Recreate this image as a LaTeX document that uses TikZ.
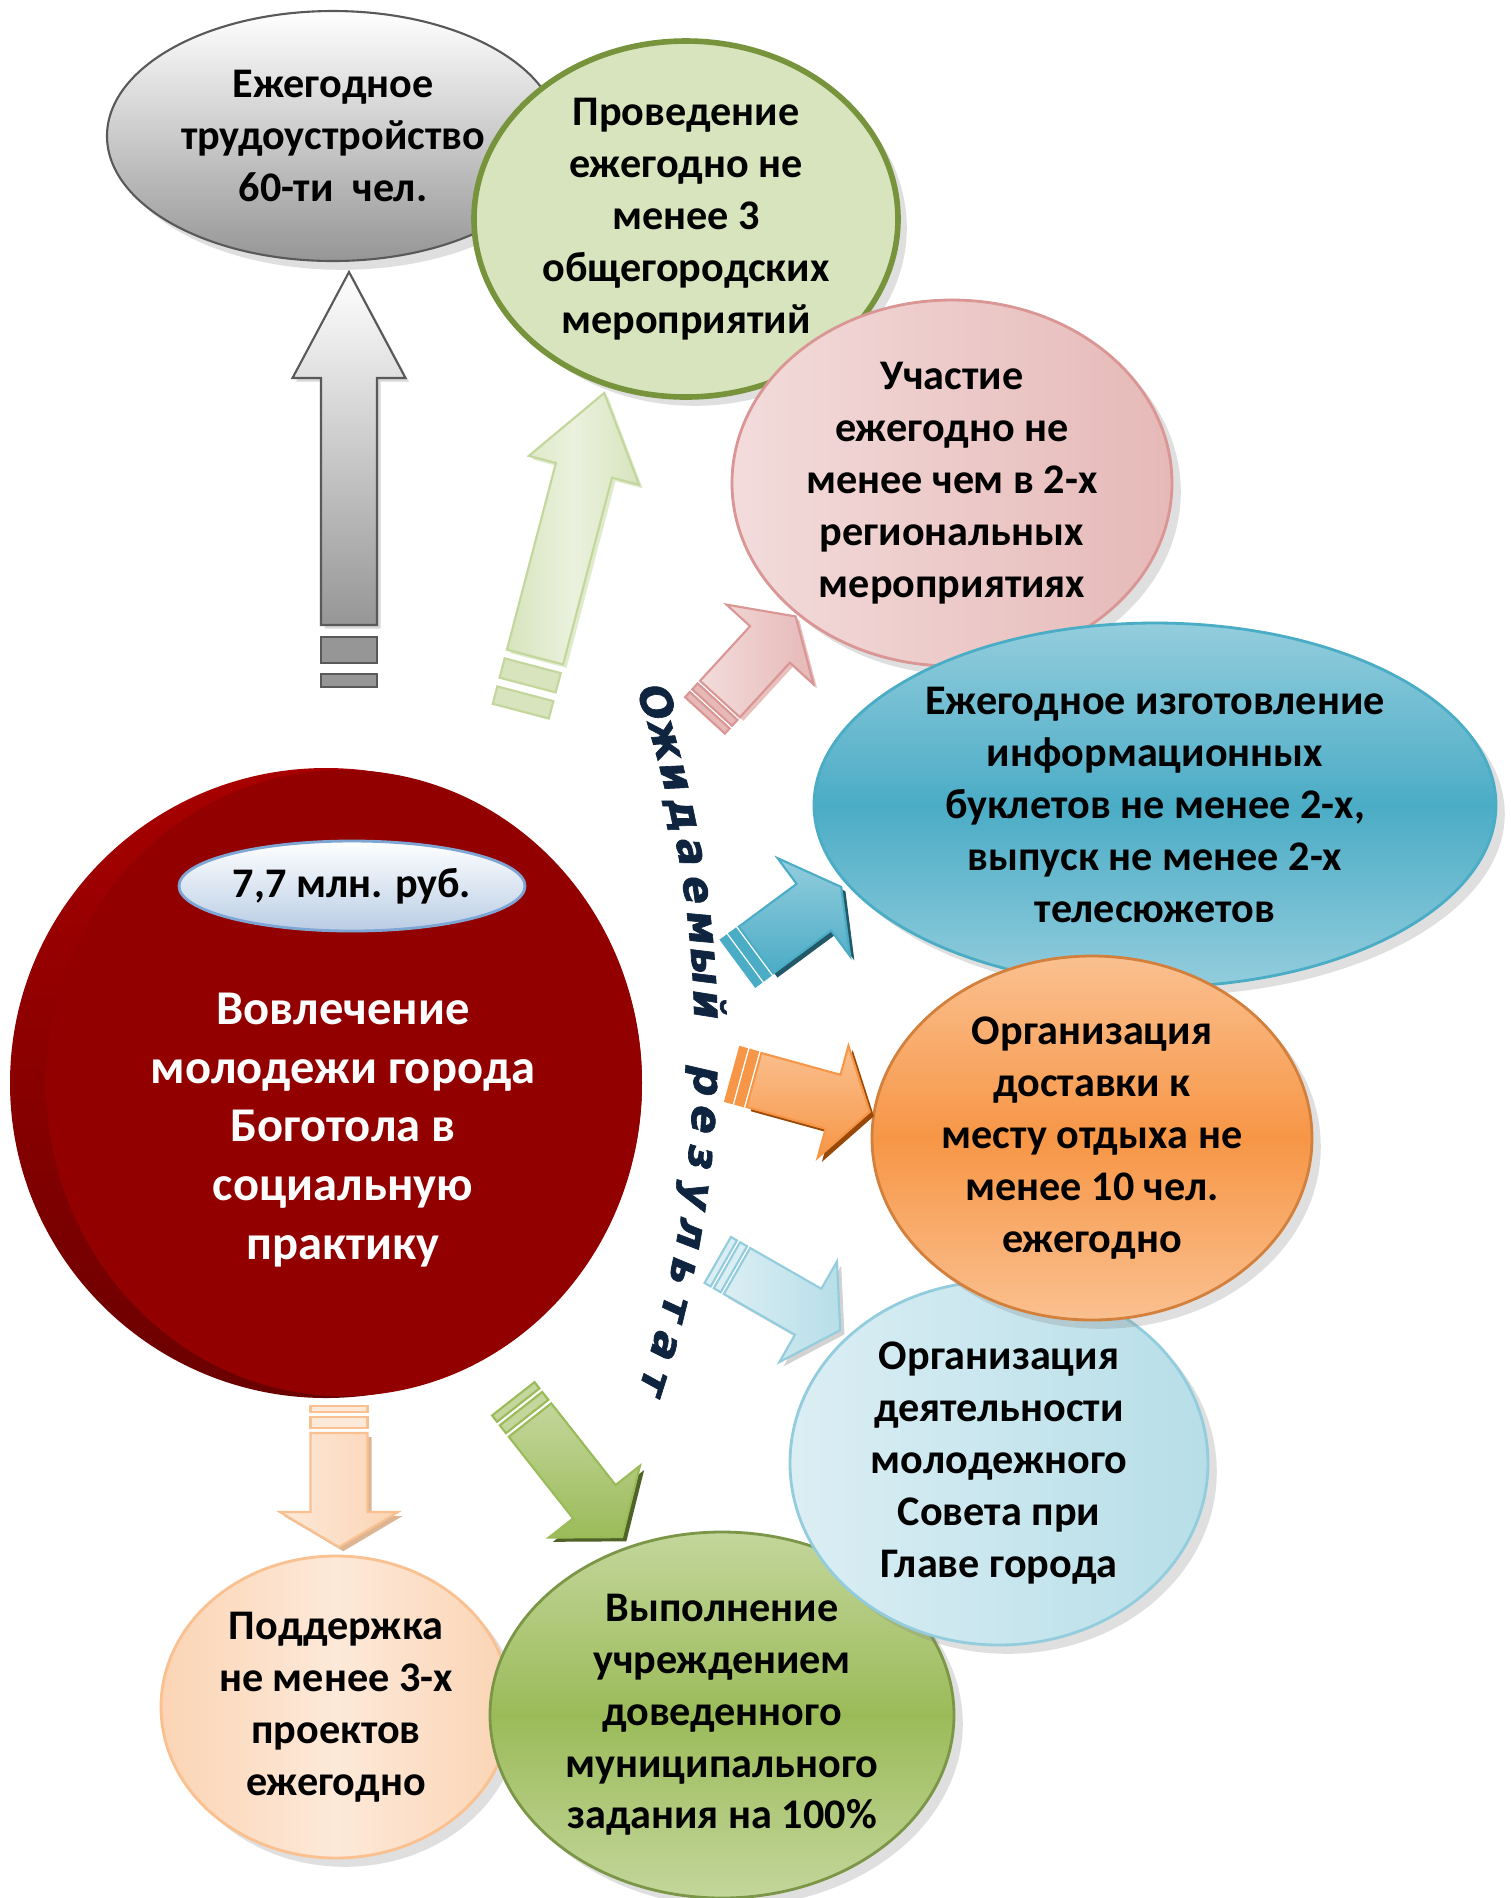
\documentclass[tikz,border=0pt]{standalone}
\usepackage{fontspec}
\setmainfont{Carlito}
\newfontfamily\wordart{DejaVu Sans}[BoldItalicFeatures={FakeBold=1.5}]
\usepackage{tikz}
\usetikzlibrary{shapes.geometric,shadows}
\usepackage{color}

\definecolor{grayedge}{HTML}{595959}
\definecolor{graydark}{HTML}{969696}
\definecolor{oliveedge}{HTML}{77933C}
\definecolor{olivefill}{HTML}{D7E4BD}
\definecolor{olivelight}{HTML}{EBF1DE}
\definecolor{pinkedge}{HTML}{D99694}
\definecolor{pinklight}{HTML}{F2DCDB}
\definecolor{pinkmid}{HTML}{E6B9B8}
\definecolor{bluemid}{HTML}{4BACC6}
\definecolor{bluelight}{HTML}{93CDDD}
\definecolor{bluedark}{HTML}{215968}
\definecolor{orangemid}{HTML}{F79646}
\definecolor{orangelight}{HTML}{FAC090}
\definecolor{orangedark}{HTML}{984807}
\definecolor{skylight}{HTML}{DBEEF4}
\definecolor{skymid}{HTML}{B7DEE8}
\definecolor{greenmid}{HTML}{9BBB59}
\definecolor{greenlight}{HTML}{C3D69B}
\definecolor{greendark}{HTML}{4F6228}
\definecolor{peachlight}{HTML}{FDE9D9}
\definecolor{peachmid}{HTML}{FBD4B4}
\definecolor{peachedge}{HTML}{FAC090}
\definecolor{redback}{HTML}{A80000}
\definecolor{reddeep}{HTML}{6A0000}
\definecolor{redfront}{HTML}{920000}
\definecolor{navy}{HTML}{0F243E}
\definecolor{capedge}{HTML}{7EA6D5}
\definecolor{capfill}{HTML}{B9CDE5}

% block arrow: tail, angle, length, half width, head half width, head length, style, stripes
\newcommand{\fatarrow}[9]{%
  \begin{scope}[shift={#1}, rotate=#2]
    \filldraw[#7] (0,-#4) -- ({#3-#6},-#4) -- ({#3-#6},-#5) -- (#3,0)
        -- ({#3-#6},#5) -- ({#3-#6},#4) -- (0,#4) -- cycle;
    \filldraw[#7 stripe] ({-0.45*#8},-#4) -- ({-1.45*#8},-#4) -- ({-1.45*#8},#4) -- ({-0.45*#8},#4) -- cycle;
    \filldraw[#7 stripe] ({-1.9*#8},-#4) -- ({-1.9*#8-#9},-#4) -- ({-1.9*#8-#9},#4) -- ({-1.9*#8},#4) -- cycle;
  \end{scope}}

\begin{document}
\begin{tikzpicture}[scale=1,
    oval/.style={ellipse, inner sep=0pt, align=center,
      font=\bfseries\fontsize{12}{14.75}\selectfont,
      drop shadow={opacity=0.25, shadow xshift=2.5pt, shadow yshift=-2.5pt}},
    letter/.style={font=\wordart\bfseries\itshape\fontsize{12}{12}\selectfont,
      text=navy, inner sep=0pt, text height=1ex, text depth=0pt},
    arrgray/.style={draw=grayedge, line width=0.6pt, top color=white, bottom color=graydark,
      drop shadow={opacity=0.3, shadow xshift=1pt, shadow yshift=-1pt}},
    arrgray stripe/.style={draw=grayedge, line width=0.6pt, fill=graydark},
    arrolive/.style={draw=greenlight, line width=0.6pt, left color=olivefill, right color=olivefill,
      middle color=olivelight, drop shadow={opacity=0.3, fill=greenmid, shadow xshift=1pt, shadow yshift=-1pt}},
    arrolive stripe/.style={draw=greenlight, line width=0.6pt, fill=olivefill},
    arrpink/.style={draw=pinkedge, line width=0.6pt, left color=pinklight, right color=pinkmid,
      drop shadow={opacity=0.6, fill=pinkedge, shadow xshift=1pt, shadow yshift=-1pt}},
    arrpink stripe/.style={draw=pinkedge, line width=0.6pt, fill=pinkmid},
    arrblue/.style={draw=bluemid, line width=0.6pt, top color=bluelight, bottom color=bluemid,
      drop shadow={opacity=1, fill=bluedark, shadow xshift=1.2pt, shadow yshift=-1.2pt}},
    arrblue stripe/.style={draw=bluemid, line width=0.6pt, fill=bluemid},
    arrorange/.style={draw=orangemid, line width=0.6pt, top color=orangelight, bottom color=orangemid,
      drop shadow={opacity=1, fill=orangedark, shadow xshift=1.2pt, shadow yshift=-1.2pt}},
    arrorange stripe/.style={draw=orangemid, line width=0.6pt, fill=orangemid},
    arrsky/.style={draw=bluelight, line width=0.6pt, left color=skylight, right color=skymid,
      drop shadow={opacity=0.35, shadow xshift=1.2pt, shadow yshift=-1.2pt}},
    arrsky stripe/.style={draw=bluelight, line width=0.6pt, fill=skylight},
    arrgreen/.style={draw=greenmid, line width=0.6pt, top color=greenlight, bottom color=greenmid,
      drop shadow={opacity=1, fill=greendark, shadow xshift=1.2pt, shadow yshift=-1.2pt}},
    arrgreen stripe/.style={draw=greenmid, line width=0.6pt, fill=greenlight},
    arrpeach/.style={draw=peachedge, line width=0.6pt, left color=peachlight, right color=peachmid,
      drop shadow={opacity=0.8, fill=peachedge!85!black, shadow xshift=1.2pt, shadow yshift=-1.2pt}},
    arrpeach stripe/.style={draw=peachedge, line width=0.6pt, fill=peachlight}
  ]
  \fill[white] (0,0) rectangle (15.11,-18.98);
  \useasboundingbox (0,0) rectangle (15.11,-18.98);

  % results
  \node[oval, draw=grayedge, line width=0.6pt, top color=white, bottom color=graydark,
        minimum width=4.52cm, minimum height=2.50cm] (job) at (3.33,-1.36)
        {Ежегодное\\трудоустройство\\60-ти\ \ чел.};
  \node[oval, draw=oliveedge, line width=1.6pt, fill=olivefill,
        minimum width=4.24cm, minimum height=3.56cm] (events) at (6.86,-2.19)
        {Проведение\\ежегодно не\\менее 3\\общегородских\\мероприятий};
  \node[oval, draw=pinkedge, line width=0.8pt, left color=pinklight, right color=pinkmid,
        minimum width=4.40cm, minimum height=3.66cm] (region) at (9.52,-4.83)
        {Участие\\ежегодно не\\менее чем в 2-х\\региональных\\мероприятиях};
  \node[oval, draw=bluemid, line width=0.8pt, top color=bluelight, bottom color=bluelight,
        middle color=bluemid, minimum width=6.82cm, minimum height=3.64cm] (media) at (11.55,-8.05)
        {Ежегодное изготовление\\информационных\\буклетов не менее 2-х,\\выпуск не менее 2-х\\телесюжетов};
  \node[oval, draw=peachedge, line width=0.8pt, left color=peachmid, right color=peachmid,
        middle color=peachlight, minimum width=3.50cm, minimum height=3.02cm] (projects) at (3.36,-17.07)
        {Поддержка\\не менее 3-х\\проектов\\ежегодно};
  \node[oval, draw=greenmid!80!black, line width=0.8pt, top color=greenlight, bottom color=greenlight,
        middle color=greenmid, minimum width=4.64cm, minimum height=3.66cm] (task) at (7.22,-17.15)
        {Выполнение\\учреждением\\доведенного\\муниципального\\задания на 100\%};
  \node[oval, draw=bluelight, line width=0.8pt, left color=skylight, right color=skymid,
        minimum width=4.18cm, minimum height=3.64cm] (council) at (9.99,-14.63)
        {Организация\\деятельности\\молодежного\\Совета при\\Главе города};
  \node[oval, draw=orangemid!85!black, line width=0.8pt, top color=orangelight, bottom color=orangelight,
        middle color=orangemid, minimum width=4.40cm, minimum height=3.64cm] (trip) at (10.92,-11.38)
        {Организация\\доставки к\\месту отдыха не\\менее 10 чел.\\ежегодно};

  % goal
  \node[ellipse, top color=redback, bottom color=reddeep, minimum width=6.32cm,
        minimum height=6.30cm] (coreback) at (3.26,-10.83) {};
  \node[ellipse, fill=redfront, minimum width=5.96cm, minimum height=6.26cm] (core) at (3.44,-10.83) {};
  \node[ellipse, draw=capedge, line width=0.8pt, top color=white, bottom color=capfill,
        minimum width=3.46cm, minimum height=0.90cm, inner sep=0pt,
        font=\bfseries\fontsize{12}{14}\selectfont] (budget) at (3.52,-8.86) {7,7 млн. руб.};
  \node[align=center, text=white, font=\bfseries\fontsize{13.8}{16.7}\selectfont] (goal) at (3.43,-11.30)
        {Вовлечение\\молодежи города\\Боготола в\\социальную\\практику};

  % arrows
  \fatarrow{(3.49,-6.25)}{90}{3.53}{0.28}{0.565}{1.06}{arrgray}{0.26}{0.13}
  \fatarrow{(5.35,-6.57)}{75.3}{2.73}{0.29}{0.57}{0.80}{arrolive}{0.20}{0.18}
  \fatarrow{(7.20,-6.99)}{47.5}{1.12}{0.27}{0.59}{0.38}{arrpink}{0.08}{0.07}
  \fatarrow{(7.56,-9.50)}{36.5}{1.06}{0.29}{0.61}{0.34}{arrblue}{0.08}{0.07}
  \fatarrow{(7.54,-10.80)}{-15.4}{1.20}{0.28}{0.58}{0.38}{arrorange}{0.08}{0.07}
  \fatarrow{(7.37,-12.71)}{-29.8}{1.19}{0.265}{0.58}{0.37}{arrsky}{0.08}{0.07}
  \fatarrow{(5.30,-14.20)}{-51.8}{1.49}{0.27}{0.58}{0.45}{arrgreen}{0.10}{0.08}
  \fatarrow{(3.39,-14.33)}{-90}{1.14}{0.285}{0.59}{0.35}{arrpeach}{0.11}{0.06}

  % caption along the arc
  \foreach \ch [count=\k from 0] in {О,ж,и,д,а,е,м,ы,й,{},р,е,з,у,л,ь,т,а,т}
  {
    \pgfmathsetmacro{\a}{17.75-1.972*\k}
    \node[letter, rotate=\a-90] (res\k) at ([shift={(\a:11.11)}] -4.08,-10.43) {\ch};
  }
\end{tikzpicture}
\end{document}
